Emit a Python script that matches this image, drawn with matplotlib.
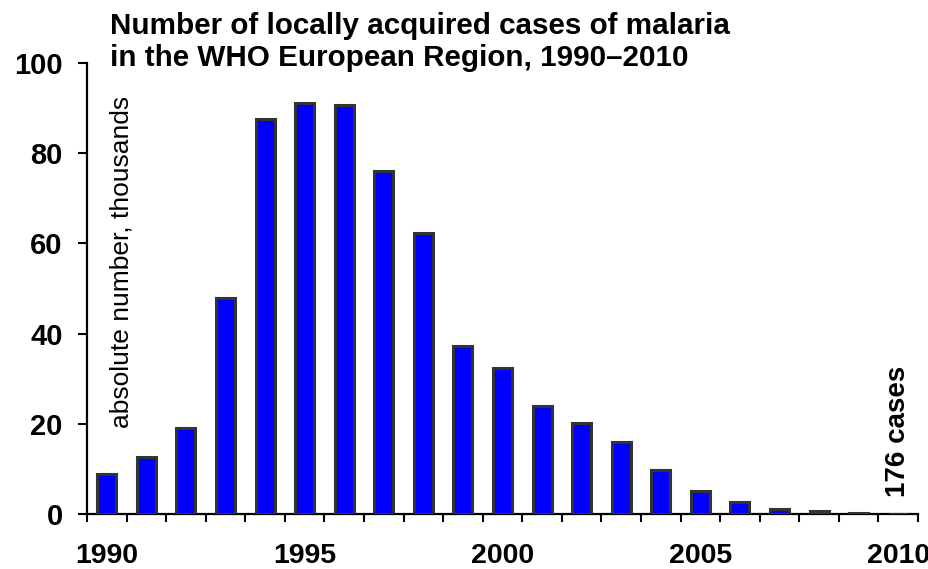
import matplotlib
matplotlib.use("Agg")
import matplotlib.pyplot as plt
import numpy as np

years = list(range(1990, 2011))
cases_thousands = [9.0, 12.6, 19.2, 48.0, 87.6, 91.0, 90.7, 76.0, 62.2, 37.2,
                   32.4, 24.0, 20.2, 16.0, 9.8, 5.2, 2.7, 1.1, 0.7, 0.35, 0.176]
label_years = [1990, 1995, 2000, 2005, 2010]
y_ticks = [0, 20, 40, 60, 80, 100]
title_lines = ["Number of locally acquired cases of malaria",
               "in the WHO European Region, 1990\u20132010"]
y_label = "absolute number, thousands"
note_2010 = "176 cases"

plt.rcParams['font.family'] = ['Liberation Sans', 'DejaVu Sans']

fig = plt.figure(figsize=(9.29, 5.69), dpi=100)
ax = fig.add_axes([87/929, (569-514.3)/569, (918-87)/929, (514.3-62.7)/569])

x = np.arange(len(years))
ax.bar(x, cases_thousands, width=0.48, color='#0000FF', edgecolor='#333333',
       linewidth=2.2, zorder=3)

ax.set_xlim(-0.5, len(years) - 0.5)
ax.set_ylim(0, 100)

for s in ['top', 'right']:
    ax.spines[s].set_visible(False)
for s in ['left', 'bottom']:
    ax.spines[s].set_linewidth(1.6)
    ax.spines[s].set_color('black')

ax.set_yticks(y_ticks)
ax.set_yticklabels([str(v) for v in y_ticks], fontsize=21, fontweight='bold')
ax.tick_params(axis='y', direction='out', length=6.5, width=1.5, pad=11)

ax.set_xticks(np.arange(-0.5, len(years)), minor=True)
ax.set_xticks([years.index(y) for y in label_years])
ax.set_xticklabels([str(y) for y in label_years], fontsize=20.5, fontweight='bold')
ax.tick_params(axis='x', which='major', length=0, pad=21)
ax.tick_params(axis='x', which='minor', direction='out', length=6, width=1.5)

ax.text(0.041, 0.19, y_label, rotation=90, ha='center', va='bottom',
        fontsize=19, transform=ax.transAxes)
ax.text(len(years) - 1, 3.8, note_2010, rotation=90, ha='center', va='bottom',
        fontsize=20, fontweight='bold')

fig.text(110/929, 1 - 34/569, title_lines[0], fontsize=21.3, fontweight='bold',
         ha='left', va='baseline')
fig.text(110/929, 1 - 66/569, title_lines[1], fontsize=21.3, fontweight='bold',
         ha='left', va='baseline')

fig.savefig('out.png', dpi=100)
